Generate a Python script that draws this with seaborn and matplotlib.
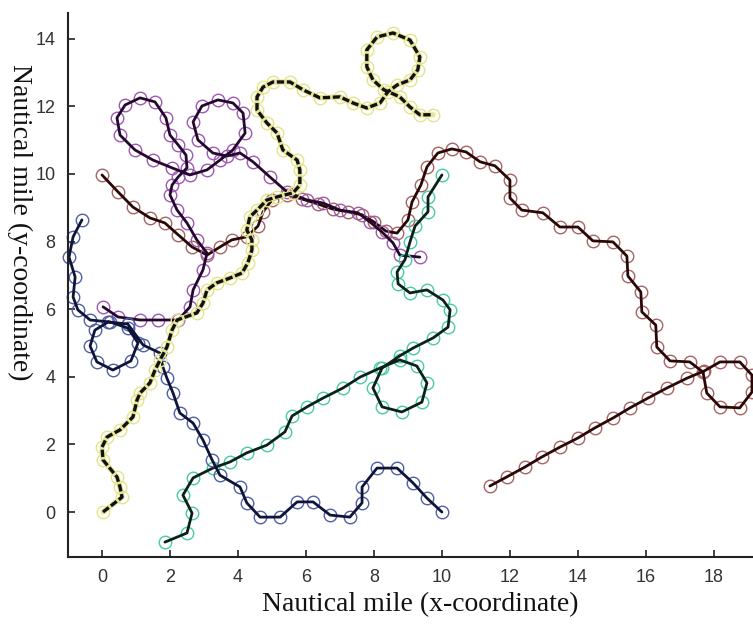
import matplotlib
matplotlib.use("Agg")
import matplotlib.pyplot as plt
import seaborn as sns

# Vessel tracks (nautical miles), one pair of arrays per vessel
yellow_x = [0.03, 0.59, 0.53, 0.44, 0.03, 0.00, 0.15, 0.53, 0.91, 1.03, 1.12, 1.41, 1.56,
            1.71, 1.91, 2.06, 2.21, 2.79, 2.97, 3.09, 3.38, 3.76, 4.12, 4.29, 4.41, 4.41,
            4.26, 4.35, 4.56, 4.85, 5.15, 5.62, 5.82, 5.82, 5.74, 5.32, 5.15, 4.85, 4.56,
            4.56, 4.74, 5.03, 5.53, 5.91, 6.41, 7.00, 7.38, 7.79, 8.18, 8.41, 8.68, 9.06,
            9.29, 9.35, 9.06, 8.56, 8.09, 7.79, 7.79, 7.97, 8.29, 8.76, 9.06, 9.35, 9.74]
yellow_y = [0.00, 0.44, 0.74, 1.04, 1.54, 1.92, 2.22, 2.43, 2.81, 3.31, 3.52, 3.82, 4.20,
            4.50, 4.88, 5.38, 5.68, 5.89, 6.18, 6.57, 6.78, 6.92, 7.07, 7.37, 7.75, 8.05,
            8.34, 8.73, 8.93, 9.23, 9.32, 9.44, 9.67, 10.12, 10.41, 10.71, 11.21, 11.51, 11.89,
            12.28, 12.57, 12.72, 12.72, 12.49, 12.25, 12.28, 12.10, 11.95, 12.10, 12.43, 12.63, 12.78,
            13.08, 13.46, 13.96, 14.17, 14.05, 13.67, 13.17, 12.78, 12.49, 12.28, 11.98, 11.75, 11.75]

purple_x = [0.03, 0.47, 1.12, 1.65, 2.24, 2.59, 2.68, 2.97, 3.09, 2.79, 2.50, 2.21, 2.00,
            2.06, 2.24, 2.50, 2.47, 2.24, 2.00, 1.88, 1.56, 1.12, 0.68, 0.44, 0.53, 0.97,
            1.50, 2.06, 2.59, 3.09, 3.47, 3.85, 4.21, 4.15, 3.85, 3.41, 2.94, 2.68, 2.82,
            3.26, 3.68, 4.06, 4.44, 4.94, 5.44, 6.03, 6.50, 7.00, 7.53, 7.88, 8.24, 8.56,
            8.76, 9.35]
purple_y = [6.07, 5.77, 5.68, 5.68, 5.68, 6.07, 6.57, 7.16, 7.66, 8.05, 8.55, 8.93, 9.38,
            9.67, 9.91, 10.18, 10.56, 10.86, 11.15, 11.66, 12.13, 12.25, 12.04, 11.66, 11.15, 10.71,
            10.41, 10.18, 9.97, 10.12, 10.41, 10.71, 11.21, 11.80, 12.10, 12.19, 12.01, 11.54, 11.01,
            10.62, 10.53, 10.62, 10.36, 9.91, 9.47, 9.23, 9.14, 8.93, 8.85, 8.58, 8.28, 7.96,
            7.60, 7.54]

maroon_x = [0.00, 0.47, 0.91, 1.41, 1.85, 2.24, 2.65, 3.09, 3.47, 3.82, 4.26, 4.59, 4.74,
            5.00, 5.44, 5.88, 6.35, 6.79, 7.24, 7.65, 8.00, 8.35, 8.68, 9.00, 9.12, 9.38,
            9.56, 9.88, 10.29, 10.71, 11.12, 11.56, 12.00, 12.00, 12.35, 12.97, 13.47, 14.00,
            14.44, 15.03, 15.44, 15.47, 15.85, 15.88, 16.29, 16.32, 16.71, 17.29, 17.68, 17.79,
            18.18, 18.76, 19.12, 19.12, 18.76, 18.18, 17.71, 17.21, 16.62, 16.06, 15.53, 15.03,
            14.50, 14.00, 13.47, 12.94, 12.44, 11.91, 11.41]
maroon_y = [9.97, 9.47, 9.02, 8.70, 8.55, 8.20, 7.84, 7.60, 7.84, 8.05, 8.14, 8.46, 8.88,
            9.23, 9.38, 9.26, 9.11, 8.96, 8.88, 8.79, 8.58, 8.31, 8.25, 8.64, 9.17, 9.67,
            10.21, 10.62, 10.74, 10.65, 10.36, 10.24, 9.82, 9.29, 8.93, 8.85, 8.43, 8.43,
            8.02, 7.99, 7.57, 6.98, 6.51, 5.92, 5.53, 4.88, 4.47, 4.44, 4.14, 3.52,
            3.11, 3.08, 3.55, 4.05, 4.44, 4.44, 4.17, 3.96, 3.67, 3.37, 3.08, 2.78,
            2.49, 2.19, 1.92, 1.63, 1.33, 1.04, 0.77]

teal_x = [10.00, 9.59, 9.59, 9.21, 9.06, 8.91, 8.68, 8.71, 9.06, 9.56, 10.03, 10.24, 10.18,
          9.74, 9.15, 8.76, 8.24, 7.97, 8.24, 8.82, 9.41, 9.56, 9.26, 8.76, 8.18, 7.59,
          7.09, 6.50, 6.03, 5.59, 5.38, 4.85, 4.26, 3.76, 3.26, 2.68, 2.38, 2.65, 2.50, 1.85]
teal_y = [9.97, 9.32, 8.88, 8.46, 7.99, 7.46, 7.10, 6.75, 6.48, 6.57, 6.27, 5.98, 5.47,
          5.15, 4.85, 4.62, 4.26, 3.67, 3.11, 2.96, 3.25, 3.82, 4.32, 4.50, 4.26, 3.99,
          3.67, 3.37, 3.11, 2.84, 2.37, 1.98, 1.75, 1.48, 1.30, 1.01, 0.50, -0.03, -0.62, -0.89]

navy_x = [-0.59, -0.85, -0.97, -0.79, -0.85, -0.71, -0.35, 0.24, 0.76, 1.06, 0.85, 0.32, -0.15,
          -0.35, -0.21, 0.18, 0.76, 1.21, 1.71, 1.79, 1.91, 2.09, 2.29, 2.68, 2.97, 3.24,
          3.47, 4.06, 4.26, 4.65, 5.24, 5.74, 6.21, 6.71, 7.29, 7.65, 7.65, 8.09, 8.68,
          9.15, 9.56, 10.00]
navy_y = [8.64, 8.14, 7.54, 6.95, 6.36, 5.98, 5.68, 5.62, 5.44, 5.00, 4.47, 4.20, 4.44,
          4.91, 5.38, 5.62, 5.56, 4.94, 4.70, 4.29, 3.96, 3.52, 2.93, 2.63, 2.13, 1.54,
          1.09, 0.74, 0.27, -0.15, -0.15, 0.30, 0.30, -0.09, -0.15, 0.27, 0.74, 1.30, 1.30,
          0.86, 0.41, 0.00]

x_ticks = [0, 2, 4, 6, 8, 10, 12, 14, 16, 18]
y_ticks = [0, 2, 4, 6, 8, 10, 12, 14]

sns.set_style("ticks", {"xtick.direction": "in", "ytick.direction": "in"})

fig = plt.figure(figsize=(7.53, 6.33), dpi=100)
ax = fig.add_axes([68 / 753, 76 / 633, 685 / 753, 544 / 633])

tracks = [
    (maroon_x, maroon_y, "#a86464", "#2a0808"),
    (purple_x, purple_y, "#a058b4", "#24082e"),
    (teal_x, teal_y, "#48cca8", "#0a2218"),
    (navy_x, navy_y, "#5060a4", "#10143a"),
]

for xs, ys, mcol, lcol in tracks:
    sns.lineplot(x=xs, y=ys, sort=False, estimator=None, ax=ax, linestyle="",
                 marker="o", markersize=9, markerfacecolor="none",
                 markeredgecolor=mcol, markeredgewidth=1.0, clip_on=False)
    sns.lineplot(x=xs, y=ys, sort=False, estimator=None, ax=ax, color=lcol,
                 linewidth=2.0, clip_on=False)

# Yellow vessel: pale circles, yellow underlay with a heavy black dash on top
sns.lineplot(x=yellow_x, y=yellow_y, sort=False, estimator=None, ax=ax, linestyle="",
             marker="o", markersize=9, markerfacecolor="none",
             markeredgecolor="#e4e48a", markeredgewidth=1.0, clip_on=False)
sns.lineplot(x=yellow_x, y=yellow_y, sort=False, estimator=None, ax=ax,
             color="#e6e69a", linewidth=3.8)
sns.lineplot(x=yellow_x, y=yellow_y, sort=False, estimator=None, ax=ax,
             color="#111111", linewidth=2.4, linestyle=(0, (2.2, 0.8)))

ax.set_xlim(-1.0, 19.15)
ax.set_ylim(-1.33, 14.76)
ax.set_xticks(x_ticks)
ax.set_yticks(y_ticks)
ax.set_xticklabels([str(v) for v in x_ticks])
ax.set_yticklabels([str(v) for v in y_ticks])
ax.tick_params(direction="in", length=5, width=1.2, pad=9, labelsize=13,
               labelcolor="#333333", colors="#222222")
for lab in ax.get_xticklabels() + ax.get_yticklabels():
    lab.set_family(["Liberation Sans", "DejaVu Sans"])
ax.spines["top"].set_visible(False)
ax.spines["right"].set_visible(False)
for side in ("left", "bottom"):
    ax.spines[side].set_linewidth(1.5)
    ax.spines[side].set_color("#222222")

fig.text(420 / 753, 1 - 605 / 633, "Nautical mile (x-coordinate)", ha="center", va="center",
         fontsize=20, family=["Liberation Serif", "DejaVu Serif"], color="#111111")
fig.text(20 / 753, 1 - 222 / 633, "Nautical mile (y-coordinate)", ha="center", va="center",
         rotation=270, fontsize=20, family=["Liberation Serif", "DejaVu Serif"], color="#111111")

fig.savefig("out.png", dpi=100, facecolor="white")
